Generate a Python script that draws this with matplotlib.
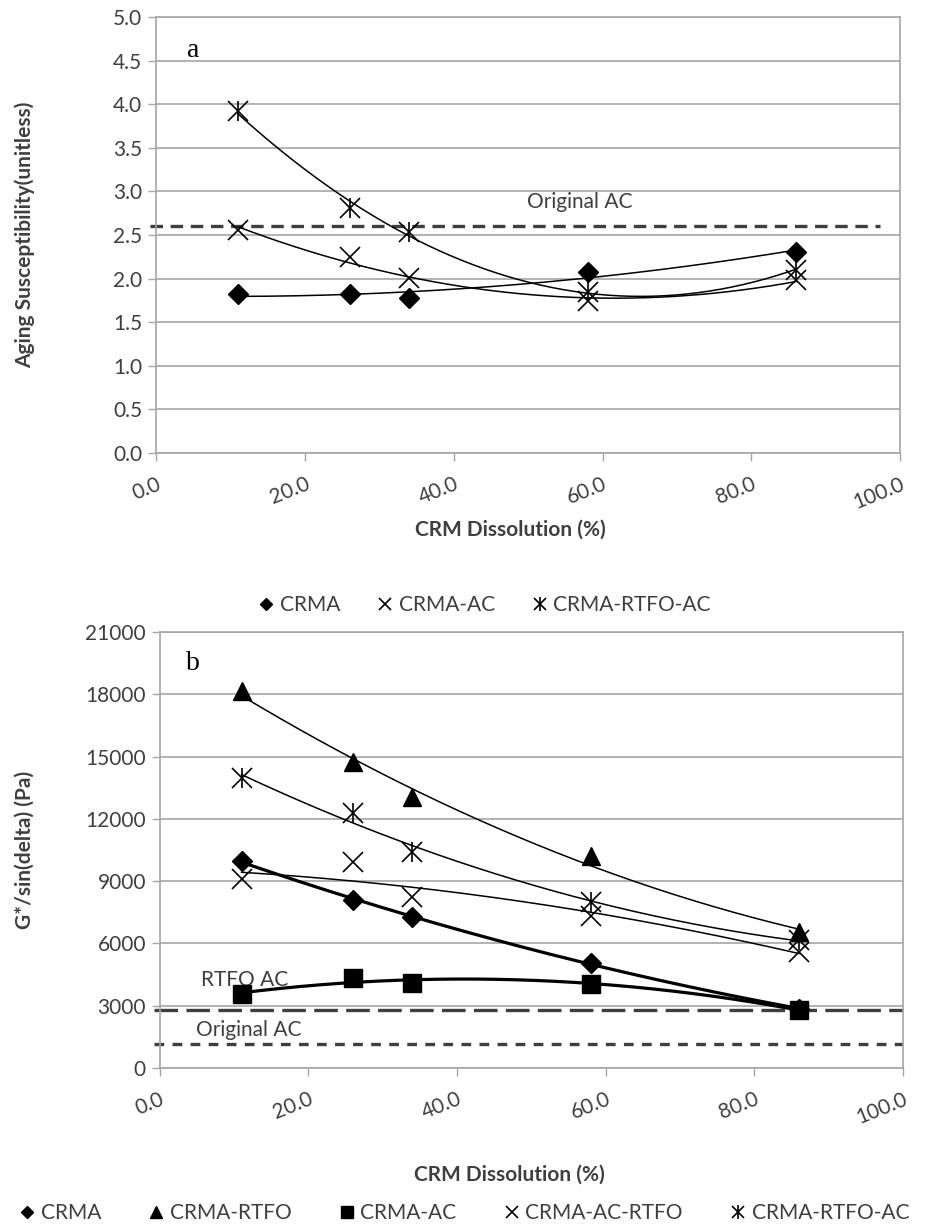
import numpy as np
import matplotlib
matplotlib.use("Agg")
import matplotlib.pyplot as plt
from matplotlib.legend_handler import HandlerTuple

plt.rcParams['font.family'] = ['Lato', 'DejaVu Sans']
plt.rcParams['lines.scale_dashes'] = False

# CRM dissolution (%)
dissolution = [11, 26, 34, 58, 86]

# chart a: aging susceptibility
aging_crma = [1.82, 1.82, 1.78, 2.07, 2.31]
aging_crma_ac = [2.56, 2.25, 2.01, 1.74, 1.98]
aging_crma_rtfo_ac = [3.92, 2.81, 2.53, 1.85, 2.10]
aging_original_ac = 2.6

# chart b: G*/sin(delta) (Pa)
g_crma = [9950, 8100, 7280, 5050, 2850]
g_crma_rtfo = [18150, 14750, 13050, 10200, 6550]
g_crma_ac = [3550, 4350, 4100, 4050, 2800]
g_crma_ac_rtfo = [9100, 9900, 8250, 7300, 5600]
g_crma_rtfo_ac = [13980, 12280, 10400, 8000, 6150]
g_rtfo_ac = 2800
g_original_ac = 1170

x_ticks = [0, 20, 40, 60, 80, 100]

GRID = '#a6a6a6'
DARK = '#3f3f3f'


def trend(ax, x, y, deg=2, lw=1.1):
    # polynomial trendline like the spreadsheet ones
    coef = np.polyfit(x, y, deg)
    xs = np.linspace(min(x), max(x), 200)
    ax.plot(xs, np.polyval(coef, xs), color='black', lw=lw, zorder=3)


def style_axes(ax, yticks, fmt):
    ax.set_xlim(0, 100)
    ax.set_ylim(yticks[0], yticks[-1])
    ax.set_yticks(yticks)
    ax.set_yticklabels([fmt.format(v) for v in yticks], fontsize=15, color=DARK)
    ax.set_xticks(x_ticks)
    ax.set_xticklabels(['%.1f' % v for v in x_ticks], fontsize=15, color=DARK,
                       rotation=22, ha='right', rotation_mode='anchor')
    ax.tick_params(axis='both', length=6, width=1.0, color=GRID, direction='out')
    ax.tick_params(axis='x', pad=9)
    ax.tick_params(axis='y', pad=4)
    ax.grid(axis='y', color=GRID, lw=1.2)
    ax.set_axisbelow(True)
    for s in ax.spines.values():
        s.set_color(GRID)
        s.set_linewidth(1.2)


def asterisk(ax, x, y, ms=13):
    h1, = ax.plot(x, y, ls='none', marker='x', ms=ms, mew=1.2, color='black', zorder=4)
    h2, = ax.plot(x, y, ls='none', marker='|', ms=ms * 1.05, mew=1.2, color='black', zorder=4)
    return (h1, h2)


fig = plt.figure(figsize=(9.29, 12.31), dpi=100)
ax1 = fig.add_axes([0.168, 0.632, 0.801, 0.3542])
ax2 = fig.add_axes([0.172, 0.1324, 0.800, 0.3542])

# ---- chart a ----
style_axes(ax1, [i * 0.5 for i in range(11)], '{:.1f}')
ax1.plot([-0.8, 97.3], [aging_original_ac, aging_original_ac], color=DARK, lw=2.4,
         dashes=(9, 5.5), clip_on=False, zorder=2)
ax1.text(57, 2.88, 'Original AC', fontsize=15, color=DARK, ha='center', va='center')
ax1.text(5, 4.62, 'a', fontsize=20, family='Liberation Serif', ha='center', va='center')

trend(ax1, dissolution, aging_crma)
trend(ax1, dissolution, aging_crma_ac)
trend(ax1, dissolution, aging_crma_rtfo_ac)
ha1, = ax1.plot(dissolution, aging_crma, ls='none', marker='D', ms=10, color='black', zorder=4)
hx1, = ax1.plot(dissolution, aging_crma_ac, ls='none', marker='x', ms=14, mew=1.2, color='black', zorder=4)
hs1 = asterisk(ax1, dissolution, aging_crma_rtfo_ac, ms=14)

ax1.set_ylabel('Aging Susceptibility(unitless)', fontsize=15, fontweight='bold', color=DARK)
ax1.yaxis.set_label_coords(-0.163, 0.5)
ax1.set_xlabel('CRM Dissolution (%)', fontsize=15, fontweight='bold', color=DARK)
ax1.xaxis.set_label_coords(0.476, -0.152)

fig.legend([ha1, hx1, hs1], ['CRMA', 'CRMA-AC', 'CRMA-RTFO-AC'],
           handler_map={tuple: HandlerTuple(ndivide=1, pad=0)},
           loc='center', bbox_to_anchor=(0.522, 0.5085), ncol=3, frameon=False,
           fontsize=15, markerscale=0.65, handlelength=0.7, handletextpad=0.3,
           columnspacing=1.8, labelcolor=DARK)

# ---- chart b ----
style_axes(ax2, list(range(0, 21001, 3000)), '{:d}')
ax2.plot([-0.8, 100], [g_rtfo_ac, g_rtfo_ac], color=DARK, lw=2.4,
         dashes=(17, 6), clip_on=False, zorder=2)
ax2.plot([-0.8, 100], [g_original_ac, g_original_ac], color=DARK, lw=2.4,
         dashes=(7, 6), clip_on=False, zorder=2)
ax2.text(11.4, 4250, 'RTFO AC', fontsize=15, color=DARK, ha='center', va='center')
ax2.text(12, 1850, 'Original AC', fontsize=15, color=DARK, ha='center', va='center')
ax2.text(4.4, 19500, 'b', fontsize=20, family='Liberation Serif', ha='center', va='center')

trend(ax2, dissolution, g_crma, lw=2.3)
trend(ax2, dissolution, g_crma_rtfo)
trend(ax2, dissolution, g_crma_ac, lw=2.3)
trend(ax2, dissolution, g_crma_ac_rtfo)
trend(ax2, dissolution, g_crma_rtfo_ac)
hd2, = ax2.plot(dissolution, g_crma, ls='none', marker='D', ms=10, color='black', zorder=4)
ht2, = ax2.plot(dissolution, g_crma_rtfo, ls='none', marker='^', ms=13, color='black', zorder=4)
hq2, = ax2.plot(dissolution, g_crma_ac, ls='none', marker='s', ms=13, color='black', zorder=5)
hx2, = ax2.plot(dissolution, g_crma_ac_rtfo, ls='none', marker='x', ms=14, mew=1.2, color='black', zorder=4)
hs2 = asterisk(ax2, dissolution, g_crma_rtfo_ac, ms=14)

ax2.set_ylabel('G*/sin(delta) (Pa)', fontsize=15, fontweight='bold', color=DARK)
ax2.yaxis.set_label_coords(-0.168, 0.5)
ax2.set_xlabel('CRM Dissolution (%)', fontsize=15, fontweight='bold', color=DARK)
ax2.xaxis.set_label_coords(0.471, -0.222)

fig.legend([hd2, ht2, hq2, hx2, hs2],
           ['CRMA', 'CRMA-RTFO', 'CRMA-AC', 'CRMA-AC-RTFO', 'CRMA-RTFO-AC'],
           handler_map={tuple: HandlerTuple(ndivide=1, pad=0)},
           loc='center', bbox_to_anchor=(0.5, 0.0146), ncol=5, frameon=False,
           fontsize=15, markerscale=0.65, handlelength=0.7, handletextpad=0.3,
           columnspacing=2.3, labelcolor=DARK)

fig.savefig('out.png', dpi=100)
